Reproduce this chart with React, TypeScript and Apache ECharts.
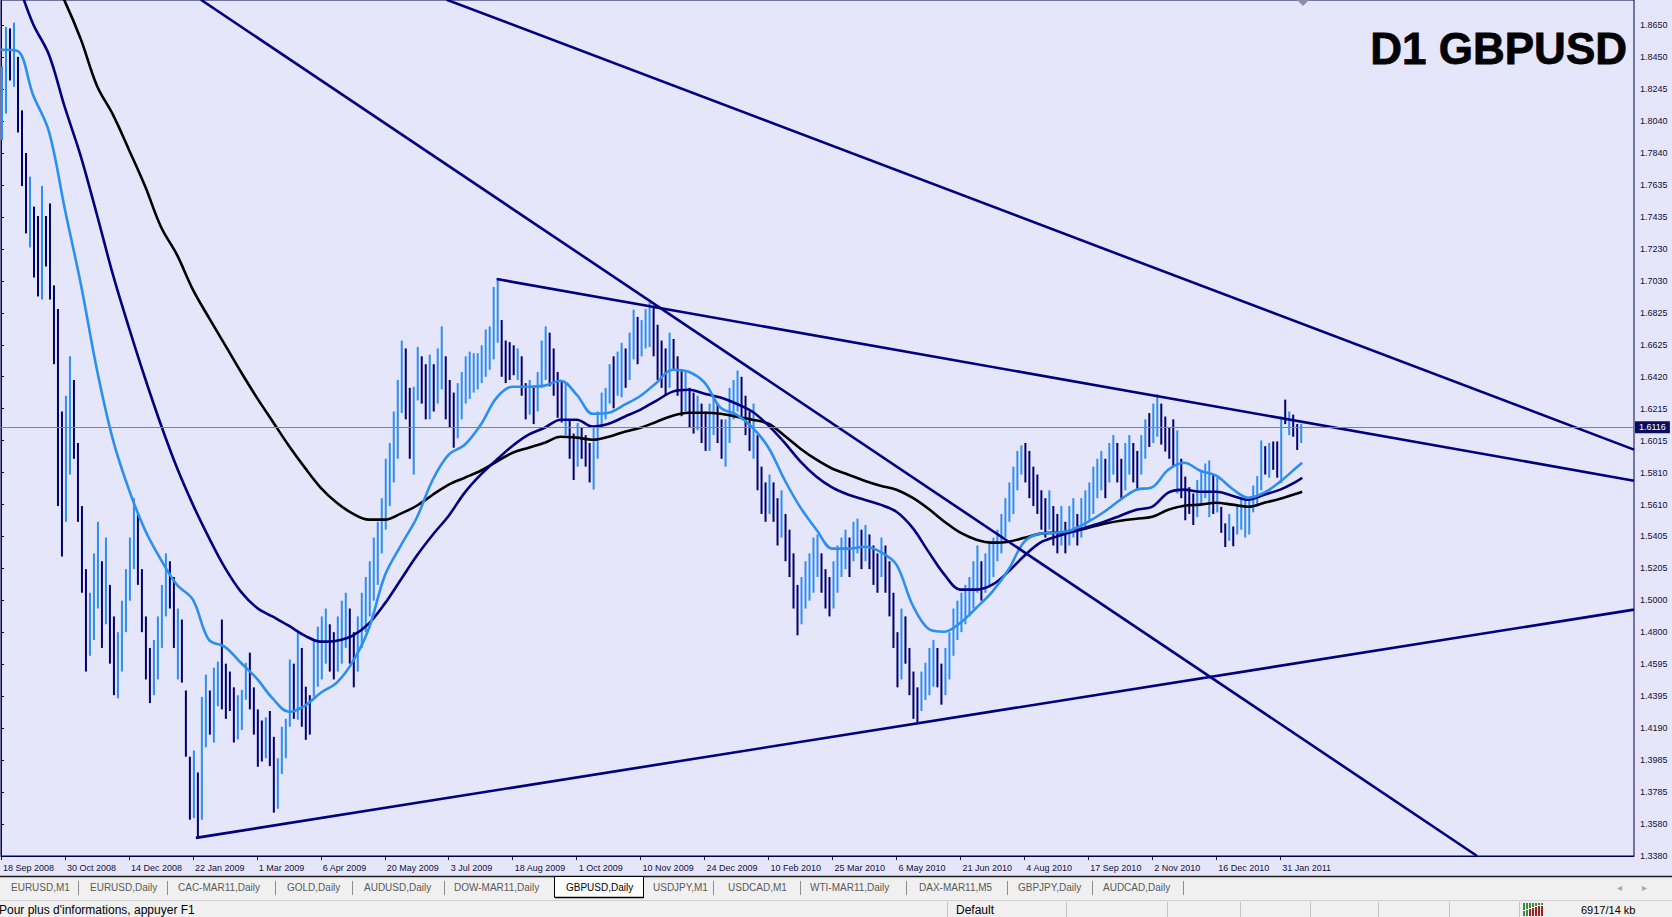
import React, { useEffect, useRef } from "react";
import * as echarts from "echarts";

// ---------- data ----------
const dateLabels = [
  "18 Sep 2008", "30 Oct 2008", "14 Dec 2008", "22 Jan 2009", "1 Mar 2009", "6 Apr 2009",
  "20 May 2009", "3 Jul 2009", "18 Aug 2009", "1 Oct 2009", "10 Nov 2009", "24 Dec 2009",
  "10 Feb 2010", "25 Mar 2010", "6 May 2010", "21 Jun 2010", "4 Aug 2010", "17 Sep 2010",
  "2 Nov 2010", "16 Dec 2010", "31 Jan 2011",
];
const barsPerLabel = 32;

const priceLabels = [
  "1.3380", "1.3580", "1.3785", "1.3985", "1.4190", "1.4395", "1.4595", "1.4800", "1.5000",
  "1.5205", "1.5405", "1.5610", "1.5810", "1.6015", "1.6215", "1.6420", "1.6625", "1.6825",
  "1.7030", "1.7230", "1.7435", "1.7635", "1.7840", "1.8040", "1.8245", "1.8450", "1.8650",
];

// two-day bars (index = pair of trading days)
const barLow = [
  1.7920, 1.8090, 1.8300, 1.8260, 1.7970, 1.7630, 1.7330, 1.7240, 1.7050, 1.6930,
  1.6910, 1.7120, 1.6910, 1.6500, 1.5600, 1.5280, 1.5500, 1.5800, 1.5900, 1.5500,
  1.5050, 1.4550, 1.4650, 1.4750, 1.4950, 1.4700, 1.4850, 1.4600, 1.4400, 1.4380,
  1.4550, 1.4800, 1.5000, 1.5200, 1.5100, 1.4800, 1.4500, 1.4350, 1.4400, 1.4500,
  1.4700, 1.4900, 1.4950, 1.4700, 1.4500, 1.4480, 1.4010, 1.3610, 1.3620, 1.3496,
  1.3610, 1.4070, 1.4150, 1.4100, 1.4330, 1.4310, 1.4250, 1.4300, 1.4100, 1.4120,
  1.4180, 1.4371, 1.4310, 1.4150, 1.3946, 1.3980, 1.4000, 1.3950, 1.3655, 1.3680,
  1.3900, 1.4000, 1.4200, 1.4250, 1.4245, 1.4200, 1.4117, 1.4150, 1.4390, 1.4454,
  1.4500, 1.4600, 1.4550, 1.4500, 1.4550, 1.4600, 1.4700, 1.4600, 1.4450, 1.4550,
  1.4700, 1.4800, 1.4900, 1.5000, 1.5100, 1.5300, 1.5450, 1.5600, 1.5750, 1.5900,
  1.6190, 1.6150, 1.5900, 1.5800, 1.6270, 1.6250, 1.6150, 1.6150, 1.6200, 1.6250,
  1.6340, 1.6150, 1.6100, 1.5970, 1.6030, 1.6150, 1.6250, 1.6280, 1.6320, 1.6340,
  1.6380, 1.6420, 1.6465, 1.6530, 1.6636, 1.6420, 1.6380, 1.6400, 1.6430, 1.6400,
  1.6300, 1.6150, 1.6180, 1.6120, 1.6200, 1.6350, 1.6400, 1.6360, 1.6300, 1.6160,
  1.6130, 1.6050, 1.5900, 1.5765, 1.5850, 1.5900, 1.5850, 1.5750, 1.5705, 1.5900,
  1.6100, 1.6150, 1.6250, 1.6220, 1.6300, 1.6290, 1.6350, 1.6400, 1.6530, 1.6500,
  1.6550, 1.6600, 1.6610, 1.6550, 1.6400, 1.6350, 1.6300, 1.6350, 1.6460, 1.6300,
  1.6170, 1.6200, 1.6100, 1.6060, 1.6080, 1.6000, 1.5950, 1.5950, 1.6050, 1.6000,
  1.5900, 1.5850, 1.6000, 1.6150, 1.6200, 1.6150, 1.6050, 1.5950, 1.5900, 1.5700,
  1.5550, 1.5500, 1.5550, 1.5500, 1.5350, 1.5400, 1.5250, 1.5150, 1.4950, 1.4780,
  1.4850, 1.4950, 1.5000, 1.5050, 1.5150, 1.5050, 1.4950, 1.4900, 1.4950, 1.5050,
  1.5150, 1.5200, 1.5150, 1.5250, 1.5300, 1.5200, 1.5250, 1.5200, 1.5100, 1.5050,
  1.5150, 1.5050, 1.4900, 1.4700, 1.4450, 1.4500, 1.4600, 1.4400, 1.4250, 1.4230,
  1.4300, 1.4370, 1.4400, 1.4454, 1.4450, 1.4340, 1.4400, 1.4500, 1.4650, 1.4750,
  1.4800, 1.4850, 1.4900, 1.4950, 1.5050, 1.5000, 1.5050, 1.5100, 1.5150, 1.5250,
  1.5300, 1.5400, 1.5500, 1.5550, 1.5700, 1.5800, 1.5750, 1.5650, 1.5600, 1.5550,
  1.5450, 1.5400, 1.5450, 1.5350, 1.5300, 1.5350, 1.5300, 1.5350, 1.5400, 1.5350,
  1.5400, 1.5450, 1.5500, 1.5550, 1.5650, 1.5700, 1.5650, 1.5750, 1.5800, 1.5750,
  1.5650, 1.5700, 1.5800, 1.5750, 1.5700, 1.5800, 1.5900, 1.5975, 1.6000, 1.6040,
  1.5990, 1.5946, 1.5900, 1.5850, 1.5680, 1.5650, 1.5510, 1.5550, 1.5480, 1.5530,
  1.5600, 1.5650, 1.5530, 1.5550, 1.5560, 1.5430, 1.5340, 1.5380, 1.5345, 1.5420,
  1.5450, 1.5400, 1.5420, 1.5560, 1.5595, 1.5700, 1.5800, 1.5780, 1.5830, 1.5780,
  1.5746, 1.6120, 1.6050, 1.6040, 1.5956, 1.6000,
];
const barHigh = [
  1.8390, 1.8640, 1.8630, 1.8667, 1.8450, 1.8110, 1.7840, 1.7690, 1.7500, 1.7440,
  1.7630, 1.7440, 1.7520, 1.7000, 1.6850, 1.6200, 1.6300, 1.6550, 1.6400, 1.6000,
  1.5600, 1.5200, 1.5050, 1.5300, 1.5500, 1.5250, 1.5400, 1.5100, 1.4900, 1.4800,
  1.5000, 1.5200, 1.5400, 1.5650, 1.5550, 1.5200, 1.4900, 1.4700, 1.4750, 1.4900,
  1.5100, 1.5300, 1.5250, 1.5150, 1.4950, 1.4880, 1.4430, 1.4010, 1.4050, 1.3910,
  1.4390, 1.4530, 1.4430, 1.4575, 1.4613, 1.4880, 1.4600, 1.4550, 1.4450, 1.4400,
  1.4434, 1.4606, 1.4670, 1.4450, 1.4310, 1.4240, 1.4260, 1.4300, 1.4136, 1.4000,
  1.4200, 1.4250, 1.4626, 1.4600, 1.4797, 1.4700, 1.4454, 1.4400, 1.4750, 1.4835,
  1.4900, 1.4950, 1.4850, 1.4800, 1.4900, 1.5000, 1.5050, 1.4950, 1.4800, 1.4900,
  1.5050, 1.5150, 1.5250, 1.5400, 1.5500, 1.5650, 1.5900, 1.6000, 1.6200, 1.6400,
  1.6650, 1.6600, 1.6350, 1.6357, 1.6610, 1.6550, 1.6500, 1.6560, 1.6500, 1.6600,
  1.6740, 1.6550, 1.6400, 1.6320, 1.6380, 1.6450, 1.6550, 1.6580, 1.6570, 1.6570,
  1.6620, 1.6720, 1.6740, 1.6990, 1.7046, 1.6780, 1.6650, 1.6640, 1.6620, 1.6600,
  1.6550, 1.6380, 1.6400, 1.6350, 1.6450, 1.6650, 1.6740, 1.6700, 1.6600, 1.6450,
  1.6400, 1.6380, 1.6150, 1.6060, 1.6127, 1.6100, 1.6050, 1.6000, 1.6100, 1.6200,
  1.6320, 1.6350, 1.6500, 1.6550, 1.6580, 1.6636, 1.6600, 1.6700, 1.6846, 1.6800,
  1.6780, 1.6850, 1.6890, 1.6860, 1.6750, 1.6650, 1.6600, 1.6700, 1.6660, 1.6550,
  1.6460, 1.6450, 1.6350, 1.6320, 1.6300, 1.6250, 1.6200, 1.6250, 1.6300, 1.6250,
  1.6150, 1.6150, 1.6350, 1.6400, 1.6460, 1.6420, 1.6300, 1.6200, 1.6250, 1.6050,
  1.5850, 1.5750, 1.5800, 1.5750, 1.5650, 1.5700, 1.5550, 1.5450, 1.5300, 1.5100,
  1.5150, 1.5250, 1.5300, 1.5400, 1.5420, 1.5300, 1.5200, 1.5150, 1.5250, 1.5350,
  1.5400, 1.5450, 1.5400, 1.5500, 1.5520, 1.5450, 1.5480, 1.5420, 1.5350, 1.5300,
  1.5400, 1.5350, 1.5250, 1.5050, 1.4800, 1.4950, 1.4900, 1.4700, 1.4550, 1.4450,
  1.4550, 1.4606, 1.4700, 1.4750, 1.4700, 1.4600, 1.4700, 1.4800, 1.4950, 1.5000,
  1.5050, 1.5100, 1.5150, 1.5250, 1.5350, 1.5250, 1.5300, 1.5380, 1.5400, 1.5450,
  1.5550, 1.5650, 1.5750, 1.5850, 1.5950, 1.5985, 1.6000, 1.5950, 1.5850, 1.5800,
  1.5700, 1.5650, 1.5700, 1.5600, 1.5550, 1.5600, 1.5500, 1.5600, 1.5650, 1.5550,
  1.5650, 1.5700, 1.5750, 1.5850, 1.5900, 1.5950, 1.5900, 1.6000, 1.6050, 1.6000,
  1.5900, 1.6000, 1.6050, 1.6000, 1.5950, 1.6050, 1.6150, 1.6190, 1.6250, 1.6310,
  1.6250, 1.6168, 1.6100, 1.6150, 1.6080, 1.5900, 1.5787, 1.5720, 1.5680, 1.5765,
  1.5830, 1.5870, 1.5890, 1.5800, 1.5780, 1.5595, 1.5490, 1.5550, 1.5470, 1.5600,
  1.5650, 1.5660, 1.5640, 1.5730, 1.5790, 1.6016, 1.5980, 1.6000, 1.6010, 1.6010,
  1.6168, 1.6275, 1.6200, 1.6180, 1.6120, 1.6120,
];
const barDir =
  "uududddudd" + "uddddduudd" + "dduuududdu" + "uuuudddduu" + "uuddudddud" +
  "uuduuddddu" + "uudddduddu" + "uuududdduu" + "uudduuuddu" + "uuuuuuuuuu" +
  "udduuddudu" + "uddduuuuuu" + "uuuuuddddu" + "dduduuuddd" + "dudduddduu" +
  "uuuduuduud" + "uuuddddudd" + "duddudduud" + "duuuudddud" + "dduddudddd" +
  "uuuuuddduu" + "uuduududdd" + "uddddudddd" + "uuuudduuuu" + "uuuuuduuuu" +
  "uuuuuudddd" + "ddudduduud" + "uuuuuuduud" + "duudduuduu" + "dddduddddu" +
  "uuududdudu" + "uuuuuududd" + "ududdu";

// moving averages, one value every 8 bars (last value at the last bar)
const maStep = 8;
const lastBarIndex = 651;
const maFast = [
  1.8495, 1.8489, 1.8210, 1.7975, 1.7480, 1.7004, 1.6465, 1.6021, 1.5704, 1.5450,
  1.5260, 1.5101, 1.5006, 1.4752, 1.4707, 1.4606, 1.4505, 1.4378, 1.4295, 1.4333,
  1.4416, 1.4480, 1.4613, 1.4822, 1.5158, 1.5349, 1.5526, 1.5767, 1.5926, 1.5989,
  1.6116, 1.6288, 1.6357, 1.6357, 1.6364, 1.6395, 1.6307, 1.6186, 1.6192, 1.6243,
  1.6300, 1.6383, 1.6465, 1.6452, 1.6383, 1.6224, 1.6180, 1.6098, 1.5970, 1.5767,
  1.5590, 1.5450, 1.5330, 1.5330, 1.5342, 1.5310, 1.5228, 1.4974, 1.4822, 1.4803,
  1.4860, 1.4955, 1.5057, 1.5196, 1.5374, 1.5425, 1.5431, 1.5450, 1.5501, 1.5564,
  1.5640, 1.5704, 1.5720, 1.5830, 1.5875, 1.5824, 1.5793, 1.5710, 1.5653, 1.5685,
  1.5755, 1.5843, 1.5875,
];
const maMid = [
  1.9193, 1.8933, 1.8660, 1.8463, 1.8127, 1.7816, 1.7448, 1.7068, 1.6732, 1.6414,
  1.6116, 1.5844, 1.5609, 1.5400, 1.5209, 1.5057, 1.4955, 1.4898, 1.4841, 1.4778,
  1.4740, 1.4746, 1.4778, 1.4854, 1.4981, 1.5133, 1.5285, 1.5418, 1.5539, 1.5685,
  1.5799, 1.5894, 1.5983, 1.6053, 1.6097, 1.6148, 1.6148, 1.6104, 1.6122, 1.6167,
  1.6212, 1.6269, 1.6326, 1.6338, 1.6313, 1.6288, 1.6249, 1.6198, 1.6110, 1.6002,
  1.5882, 1.5786, 1.5717, 1.5672, 1.5640, 1.5609, 1.5564, 1.5463, 1.5311, 1.5165,
  1.5070, 1.5070, 1.5101, 1.5184, 1.5285, 1.5368, 1.5406, 1.5437, 1.5469, 1.5501,
  1.5539, 1.5577, 1.5596, 1.5685, 1.5704, 1.5691, 1.5691, 1.5666, 1.5640, 1.5672,
  1.5704, 1.5755, 1.5780,
];
const maSlow = [
  1.9624, 1.9415, 1.9206, 1.9003, 1.8800, 1.8559, 1.8267, 1.8083, 1.7861, 1.7632,
  1.7372, 1.7195, 1.6973, 1.6795, 1.6624, 1.6452, 1.6288, 1.6135, 1.5983, 1.5844,
  1.5716, 1.5621, 1.5552, 1.5514, 1.5514, 1.5552, 1.5602, 1.5672, 1.5736, 1.5780,
  1.5824, 1.5882, 1.5938, 1.5970, 1.6002, 1.6040, 1.6034, 1.6021, 1.6040, 1.6072,
  1.6097, 1.6135, 1.6173, 1.6192, 1.6192, 1.6186, 1.6167, 1.6148, 1.6122, 1.6046,
  1.5964, 1.5894, 1.5837, 1.5799, 1.5761, 1.5729, 1.5704, 1.5653, 1.5583, 1.5501,
  1.5431, 1.5387, 1.5368, 1.5374, 1.5399, 1.5425, 1.5431, 1.5437, 1.5463, 1.5488,
  1.5507, 1.5520, 1.5532, 1.5577, 1.5602, 1.5609, 1.5621, 1.5609, 1.5596, 1.5621,
  1.5647, 1.5678, 1.5691,
];

// trend lines: [barIndex, price] end points
const trendLines = [
  [[223, 1.8812], [817, 1.5958]],
  [[100, 1.8812], [738.5, 1.338]],
  [[248, 1.704], [817, 1.5761]],
  [[97.5, 1.3495], [817, 1.4943]],
];
const lastPrice = 1.6116;

const tabNames = [
  "EURUSD,M1", "EURUSD,Daily", "CAC-MAR11,Daily", "GOLD,Daily", "AUDUSD,Daily",
  "DOW-MAR11,Daily", "GBPUSD,Daily", "USDJPY,M1", "USDCAD,M1", "WTI-MAR11,Daily",
  "DAX-MAR11,M5", "GBPJPY,Daily", "AUDCAD,Daily",
];
const activeTab = "GBPUSD,Daily";
const statusTexts = ["Pour plus d'informations, appuyer F1", "Default", "6917/14 kb"];
const chartTitle = "D1 GBPUSD";

// ---------- layout / style ----------
const W = 1672;
const H = 917;
const PLOT_W = 1634;
const PLOT_H = 856;
const X_MAX = PLOT_W / 2;
const PRICE_MIN = 1.338;
const PRICE_STEP = (1.865 - 1.338) / 26;
const PRICE_MAX = PRICE_MIN + PLOT_H * 0.0006344;

const LAV = "#E6E6FA";
const NAVY = "#000080";
const UP = "#2D8EF2";
const DOWN = "#00006E";
const FAST = "#2B8FF0";
const TXT = "#10103C";
const FONT = '"Liberation Sans", Arial, sans-serif';

const tabX = [11, 90, 178, 287, 364, 454, 566, 653, 728, 810, 919, 1018, 1103];
const tabSeps = [78, 167, 275, 352, 444, 713, 800, 906, 1007, 1092, 1183];
const statusSeps = [947, 1066, 1167, 1240, 1310, 1378, 1449, 1519];

export default function App() {
  const ref = useRef<HTMLDivElement>(null);

  useEffect(() => {
    if (!ref.current) return;
    const chart = echarts.init(ref.current, null, { renderer: "svg" });

    const bars = barLow.map((lo, k) => [k * 2 + 0.5, lo, barHigh[k], barDir[k] === "u" ? 1 : 0]);
    const maX = (j: number) => (j * maStep > lastBarIndex ? lastBarIndex : j * maStep);
    const maSeries = (vals: number[], color: string, name: string) => ({
      type: "line",
      name,
      data: vals.map((v, j) => [j === vals.length - 1 ? lastBarIndex : maX(j), v]),
      showSymbol: false,
      smooth: 0.35,
      clip: true,
      z: 3,
      lineStyle: { color, width: 2.6 },
      silent: true,
    });

    const xTicks = dateLabels.map((_, i) => i * barsPerLabel);
    const yTicks = priceLabels.map((_, i) => PRICE_MIN + i * PRICE_STEP);

    const graphics: any[] = [];
    graphics.push({
      type: "text",
      x: 1627,
      y: 48,
      z: 20,
      style: {
        text: chartTitle,
        font: `bold 44px ${FONT}`,
        fill: "#000",
        stroke: "#000",
        lineWidth: 0.8,
        textAlign: "right",
        align: "right",
        textVerticalAlign: "middle",
        verticalAlign: "middle",
      },
    });
    graphics.push({
      type: "polygon",
      z: 20,
      shape: { points: [[1297, 0], [1309, 0], [1303, 6]] },
      style: { fill: "#8E8EAA" },
    });
    // tab bar
    graphics.push({ type: "rect", z: 20, shape: { x: 0, y: 876, width: W, height: 24 }, style: { fill: "#F0F0F0" } });
    graphics.push({ type: "line", z: 21, shape: { x1: 0, y1: 876.5, x2: W, y2: 876.5 }, style: { stroke: "#1A1A1A", lineWidth: 1.5 } });
    graphics.push({ type: "rect", z: 22, shape: { x: 554.5, y: 876.5, width: 89, height: 21 }, style: { fill: "#FFFFFF", stroke: "#000", lineWidth: 1 } });
    graphics.push({ type: "line", z: 22, shape: { x1: 555, y1: 897.5, x2: 644, y2: 897.5 }, style: { stroke: "#000", lineWidth: 1.5 } });
    tabSeps.forEach((x) =>
      graphics.push({ type: "line", z: 21, shape: { x1: x + 0.5, y1: 881, x2: x + 0.5, y2: 895 }, style: { stroke: "#8C8C8C", lineWidth: 1 } })
    );
    tabNames.forEach((name, i) =>
      graphics.push({
        type: "text",
        z: 23,
        x: tabX[i],
        y: 887.5,
        style: {
          text: name,
          font: `10px ${FONT}`,
          fill: name === activeTab ? "#000" : "#5A5A5A",
          textVerticalAlign: "middle",
          verticalAlign: "middle",
        },
      })
    );
    graphics.push({ type: "text", z: 23, x: 1617, y: 887.5, style: { text: "◂", font: `10px ${FONT}`, fill: "#A8A8A8", verticalAlign: "middle", textVerticalAlign: "middle" } });
    graphics.push({ type: "text", z: 23, x: 1642, y: 887.5, style: { text: "▸", font: `10px ${FONT}`, fill: "#A8A8A8", verticalAlign: "middle", textVerticalAlign: "middle" } });
    // status bar
    graphics.push({ type: "rect", z: 20, shape: { x: 0, y: 900, width: W, height: 17 }, style: { fill: "#F0F0F0" } });
    graphics.push({ type: "line", z: 21, shape: { x1: 0, y1: 900.5, x2: W, y2: 900.5 }, style: { stroke: "#D0D0D0", lineWidth: 1 } });
    statusSeps.forEach((x) =>
      graphics.push({ type: "line", z: 21, shape: { x1: x + 0.5, y1: 902, x2: x + 0.5, y2: 917 }, style: { stroke: "#C4C4C4", lineWidth: 1 } })
    );
    graphics.push({ type: "text", z: 23, x: -1, y: 909.5, style: { text: statusTexts[0], font: `12px ${FONT}`, fill: "#000", verticalAlign: "middle", textVerticalAlign: "middle" } });
    graphics.push({ type: "text", z: 23, x: 956, y: 909.5, style: { text: statusTexts[1], font: `12px ${FONT}`, fill: "#000", verticalAlign: "middle", textVerticalAlign: "middle" } });
    graphics.push({ type: "text", z: 23, x: 1581, y: 909.5, style: { text: statusTexts[2], font: `11px ${FONT}`, fill: "#000", verticalAlign: "middle", textVerticalAlign: "middle" } });
    // connection indicator
    for (let i = 0; i < 7; i++) {
      const bx = 1523 + i * 3;
      graphics.push({ type: "rect", z: 22, shape: { x: bx, y: 903, width: 2, height: 6 - Math.min(i, 5) + 1 }, style: { fill: "#3C8C3C" } });
      graphics.push({ type: "rect", z: 22, shape: { x: bx, y: 910 - Math.min(i, 5) + 1, width: 2, height: 6 + Math.min(i, 5) - 1 }, style: { fill: i < 2 ? "#3C8C3C" : "#A02020" } });
    }

    const option: any = {
      animation: false,
      backgroundColor: LAV,
      grid: {
        left: 0,
        top: 0,
        width: PLOT_W,
        height: PLOT_H,
        show: true,
        borderColor: "#000050",
        borderWidth: 1,
        backgroundColor: LAV,
      },
      xAxis: {
        type: "value",
        min: 0,
        max: X_MAX,
        interval: barsPerLabel,
        axisLine: { show: true, lineStyle: { color: "#000050", width: 1 } },
        axisTick: { show: true, length: 4, lineStyle: { color: "#000050" }, customValues: xTicks },
        splitLine: { show: false },
        axisLabel: {
          customValues: xTicks,
          align: "left",
          margin: 7,
          padding: [0, 0, 0, 2],
          color: TXT,
          fontSize: 9,
          fontFamily: FONT,
          formatter: (v: number) => {
            const idx = Math.round(v / barsPerLabel);
            return Math.abs(v - idx * barsPerLabel) < 0.01 && dateLabels[idx] ? dateLabels[idx] : "";
          },
        },
      },
      yAxis: {
        type: "value",
        position: "right",
        min: PRICE_MIN,
        max: PRICE_MAX,
        interval: PRICE_STEP,
        axisLine: { show: true, lineStyle: { color: "#000050", width: 1 } },
        axisTick: { show: true, length: 3, lineStyle: { color: "#000050" }, customValues: yTicks },
        splitLine: { show: false },
        axisLabel: {
          customValues: yTicks,
          margin: 6,
          color: TXT,
          fontSize: 9,
          fontFamily: FONT,
          formatter: (v: number) => {
            const idx = Math.round((v - PRICE_MIN) / PRICE_STEP);
            return priceLabels[idx] ?? "";
          },
        },
      },
      series: [
        {
          type: "line",
          data: [],
          z: 1,
          silent: true,
          markLine: {
            silent: true,
            symbol: "none",
            lineStyle: { color: "#80809A", width: 1, type: "solid" },
            label: {
              show: true,
              position: "end",
              formatter: lastPrice.toFixed(4),
              color: "#FFFFFF",
              backgroundColor: "#0C0C5E",
              padding: [2, 4, 1, 4],
              fontSize: 9,
              fontFamily: FONT,
              distance: 1,
            },
            data: [{ yAxis: lastPrice }],
          },
        },
        {
          type: "custom",
          z: 2,
          clip: true,
          silent: true,
          encode: { x: 0, y: [1, 2] },
          data: bars,
          renderItem: (_p: any, api: any) => {
            const x = api.value(0);
            const p1 = api.coord([x, api.value(1)]);
            const p2 = api.coord([x, api.value(2)]);
            return {
              type: "line",
              shape: { x1: p1[0], y1: p1[1], x2: p2[0], y2: p2[1] },
              style: { stroke: api.value(3) ? UP : DOWN, lineWidth: 2 },
            };
          },
        },
        maSeries(maSlow, "#000000", "slow"),
        maSeries(maMid, NAVY, "mid"),
        maSeries(maFast, FAST, "fast"),
        ...trendLines.map((pts) => ({
          type: "line",
          data: pts,
          showSymbol: false,
          clip: true,
          z: 4,
          silent: true,
          lineStyle: { color: NAVY, width: 2.6 },
        })),
      ],
      graphic: graphics,
    };

    chart.setOption(option);
    return () => chart.dispose();
  }, []);

  return <div ref={ref} style={{ position: "fixed", left: 0, top: 0, width: W, height: H }} />;
}
